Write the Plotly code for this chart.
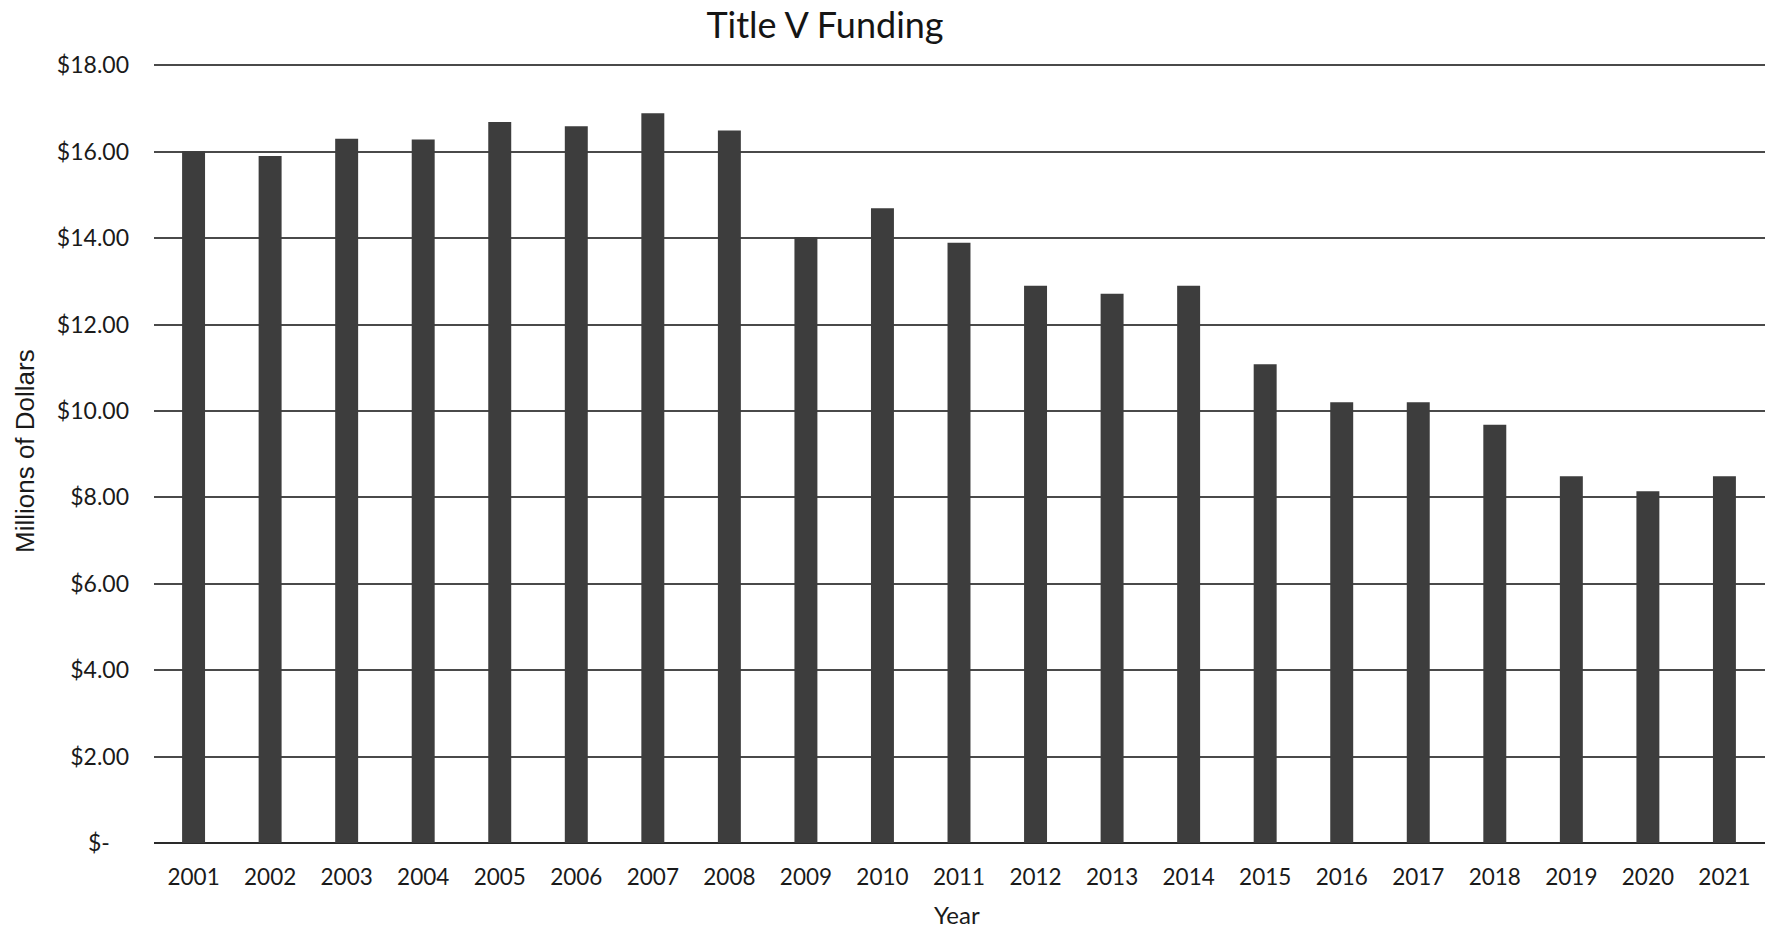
import plotly.graph_objects as go

years = [str(y) for y in range(2001, 2022)]
funding = [16.01, 15.90, 16.30, 16.28, 16.69, 16.59, 16.89, 16.49, 14.02, 14.69,
           13.89, 12.90, 12.71, 12.90, 11.08, 10.20, 10.20, 9.68, 8.49, 8.14, 8.49]
tick_vals = [0, 2, 4, 6, 8, 10, 12, 14, 16, 18]
tick_text = ["$-\u2007\u00a0", "$2.00", "$4.00", "$6.00", "$8.00", "$10.00",
             "$12.00", "$14.00", "$16.00", "$18.00"]

W, H = 1765, 928
L, R, T, B = 154, 0, 64, 85
PW, PH = W - L - R, H - T - B

fig = go.Figure(go.Bar(x=years, y=funding, marker=dict(color="#3d3d3d", line=dict(width=0)),
                       width=0.30))

fig.update_layout(
    width=W, height=H,
    margin=dict(l=L, r=R, t=T, b=B, pad=0),
    paper_bgcolor="white", plot_bgcolor="white",
    showlegend=False,
    font=dict(family="Lato", color="#1a1a1a"),
    title=dict(text="Title V Funding", x=825 / W, xanchor="center", xref="container",
               y=1 - 25 / H, yanchor="middle", yref="container",
               font=dict(family="Lato", size=36, color="#151515")),
    xaxis=dict(type="category", range=[-0.517, 20.53], showgrid=False, zeroline=False,
               showline=False, ticks="", tickfont=dict(family="Lato", size=22.5, color="#1a1a1a"),
               ticklabelstandoff=18),
    yaxis=dict(range=[0, 18.03], tickvals=tick_vals, ticktext=tick_text,
               showgrid=True, gridcolor="#4a4a4a", gridwidth=1.6,
               zeroline=True, zerolinecolor="#2a2a2a", zerolinewidth=2,
               showline=False, ticks="",
               tickfont=dict(family="Lato", size=23, color="#1a1a1a"),
               ticklabelstandoff=24),
    bargap=0.70,
)

fig.add_annotation(text="Millions of Dollars", textangle=-90, showarrow=False,
                   xref="paper", yref="paper",
                   x=(25 - L) / PW, y=(H - B - 451) / PH,
                   xanchor="center", yanchor="middle",
                   font=dict(family="Liberation Sans", size=26, color="#1a1a1a"))
fig.add_annotation(text="Year", showarrow=False, xref="paper", yref="paper",
                   x=(957 - L) / PW, y=(H - B - 914) / PH,
                   xanchor="center", yanchor="middle",
                   font=dict(family="Lato", size=24, color="#1a1a1a"))

fig.write_html("out.html", config={"displayModeBar": False},
               post_script="document.body.style.margin='0';document.body.style.overflow='hidden';")
